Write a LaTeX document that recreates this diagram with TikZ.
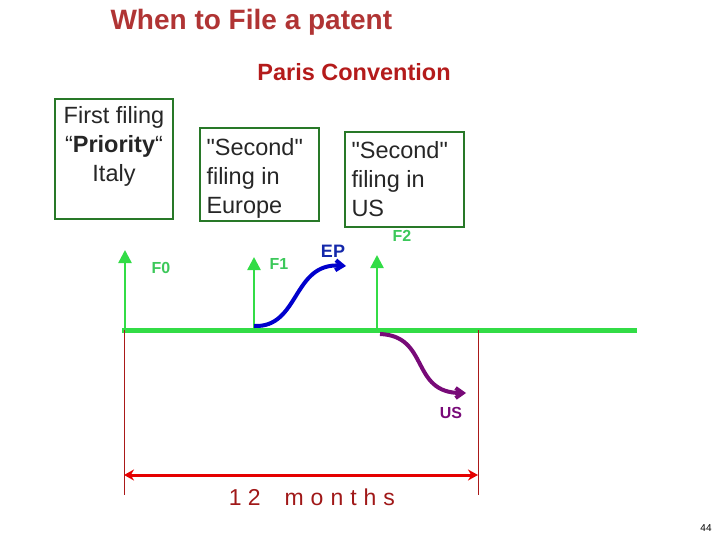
\documentclass[tikz,border=0pt]{standalone}
\usepackage{fontspec}
\setmainfont{Liberation Sans}
\usetikzlibrary{arrows.meta}

\definecolor{titlered}{RGB}{176,52,52}
\definecolor{boxgreen}{RGB}{40,120,40}
\definecolor{linegreen}{RGB}{50,220,70}
\definecolor{labgreen}{RGB}{60,200,90}
\definecolor{epblue}{RGB}{20,40,170}
\definecolor{uspurple}{RGB}{120,10,120}
\definecolor{dimred}{RGB}{200,30,30}

\begin{document}
\begin{tikzpicture}[x=1pt,y=-1pt]
    \tikzstyle{box}=[draw=boxgreen,line width=1.6pt,inner sep=0pt,text=black!85]
    \tikzstyle{filing}=[draw=linegreen,line width=2.4pt,-{Triangle[width=13pt,length=13pt]}]
    \tikzstyle{flabel}=[text=labgreen,font=\bfseries\fontsize{16}{18}\selectfont]
    \tikzstyle{tick}=[draw=dimred!85!black,line width=1pt]

    \useasboundingbox (0,0) rectangle (720,540);

    % Titles
    \node[anchor=west,text=titlered,font=\bfseries\fontsize{28}{32}\selectfont] (title) at (107,22) {When to File a patent};
    \node[text=dimred!90!black,font=\bfseries\fontsize{23.5}{26}\selectfont] (paris) at (354,72) {Paris Convention};

    % Draw the filing boxes
    \node[box,minimum width=118pt,minimum height=120pt] (B-1) at (114,159)
        {\parbox[c][116pt][t]{116pt}{\vspace*{5pt}\centering\fontsize{23.5}{29}\selectfont First filing\\``\textbf{Priority}``\\Italy}};
    \node[box,minimum width=119pt,minimum height=93pt] (B-2) at (259.5,174.5)
        {\parbox{106pt}{\vspace*{8pt}\fontsize{23.5}{29}\selectfont \textquotedbl Second\textquotedbl\\filing in\\Europe}};
    \node[box,minimum width=119pt,minimum height=95pt] (B-3) at (404.5,179.5)
        {\parbox{106pt}{\fontsize{23.5}{29}\selectfont \textquotedbl Second\textquotedbl\\filing in\\US}};

    % Time line
    \coordinate (T-0) at (122,330);
    \coordinate (T-end) at (637,330);
    \draw[draw=linegreen,line width=5pt] (T-0) -- (T-end);

    % Draw the filings
    \coordinate (F0-b) at (125,330);
    \coordinate (F0-t) at (125,250);
    \coordinate (F1-b) at (254,330);
    \coordinate (F1-t) at (254,257);
    \coordinate (F2-b) at (377,330);
    \coordinate (F2-t) at (377,255);
    \foreach \f in {0,1,2}
        \draw[filing] (F\f-b) -- (F\f-t);
    \node[flabel] (F0) at (161,268) {F0};
    \node[flabel] (F1) at (279,264) {F1};
    \node[flabel] (F2) at (402,236) {F2};

    % European and US routes
    \coordinate (EP-s) at (254,326);
    \coordinate (EP-e) at (346,266);
    \draw[draw=blue!80!black,line width=4pt,-{Straight Barb[length=7pt,width=10pt]}]
        (EP-s) .. controls (300,328) and (292,262) .. (EP-e);
    \node[text=epblue,font=\bfseries\fontsize{18}{20}\selectfont] (EP) at (333,251) {EP};
    \coordinate (US-s) at (380,334);
    \coordinate (US-e) at (466,393);
    \draw[draw=uspurple,line width=4pt,-{Straight Barb[length=7pt,width=10pt]}]
        (US-s) .. controls (430,336) and (410,393) .. (US-e);
    \node[text=uspurple,font=\bfseries\fontsize{16}{18}\selectfont] (US) at (451,413) {US};

    % Twelve months
    \coordinate (M-l) at (124,330);
    \coordinate (M-r) at (478,330);
    \coordinate (M-lb) at (124,495);
    \coordinate (M-rb) at (478,495);
    \path[tick] (M-l) edge (M-lb) (M-r) edge (M-rb);
    \coordinate (A-l) at (124,475);
    \coordinate (A-r) at (478,475);
    \draw[draw=red!90!black,line width=3pt,{Stealth[length=10pt,width=11pt]}-{Stealth[length=10pt,width=11pt]}] (A-l) -- (A-r);
    \node[text=dimred!80!black,font=\fontsize{23}{26}\selectfont] (months) at (312,497) {1\hspace{6pt}2\hspace{24pt}m\hspace{7pt}o\hspace{7pt}n\hspace{7pt}t\hspace{7pt}h\hspace{7pt}s};

    \node[font=\fontsize{10}{12}\selectfont] (page) at (706,528) {44};
\end{tikzpicture}
\end{document}
